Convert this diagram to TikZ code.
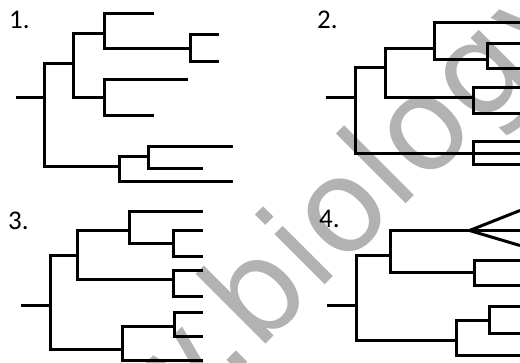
\documentclass[tikz,border=0pt]{standalone}
\usepackage{fontspec}
\setmainfont{Carlito}
\newfontfamily\wmfont{DejaVu Sans}
\begin{document}
\begin{tikzpicture}[x=1pt,y=-1pt,
  br/.style={line width=3pt,black},
  lab/.style={font=\fontsize{27}{27}\selectfont,inner sep=0pt,anchor=base west},
  wm/.style={font=\wmfont\fontsize{130}{130}\selectfont,text=black!30,inner sep=0pt,rotate=45}]
\useasboundingbox (0,0) rectangle (520,362);
% watermark
\coordinate (wb) at (257.6,352.4);
\node[wm,anchor=base west] (wm1) at (wb) {biology};
\node[wm,anchor=base east] (wm2) at (wb) {www.};
% labels
\node[lab] (l1) at (9,28) {1.};
\node[lab] (l2) at (317,28) {2.};
\node[lab] (l3) at (8,229) {3.};
\node[lab] (l4) at (319,227) {4.};
% ---------- tree 1
\coordinate (t1r) at (15.5,97.5);
\coordinate (t1n) at (44.5,97.5);
\coordinate (t1a) at (73.5,63.5);
\coordinate (t1b) at (119.5,166.5);
\coordinate (t1c) at (104.5,33.5);
\coordinate (t1d) at (104.5,97.5);
\coordinate (t1e) at (190.5,48.5);
\coordinate (t1f) at (148.5,156.5);
\coordinate (t1l1) at (154,13.5);
\coordinate (t1l2) at (219,34.5);
\coordinate (t1l3) at (219,61.5);
\coordinate (t1l4) at (188,79.5);
\coordinate (t1l5) at (154,115.5);
\coordinate (t1l6) at (233,146.5);
\coordinate (t1l7) at (203,168.5);
\coordinate (t1l8) at (233,181.5);
\draw[br] (t1r) -- (t1n);
\foreach \p/\c in {t1n/t1a,t1n/t1b,t1a/t1c,t1a/t1d,t1c/t1l1,t1c/t1e,t1e/t1l2,t1e/t1l3,t1d/t1l4,t1d/t1l5,t1b/t1f,t1b/t1l8,t1f/t1l6,t1f/t1l7}
  \draw[br] (\p) |- (\c);
% ---------- tree 2
\coordinate (t2r) at (325.5,97.5);
\coordinate (t2n) at (355.5,97.5);
\coordinate (t2a) at (385.5,67.5);
\coordinate (t2b) at (473.5,153.5);
\coordinate (t2c) at (434.5,48.5);
\coordinate (t2d) at (473.5,97.5);
\coordinate (t2e) at (487.5,59.5);
\coordinate (t2l1) at (520,22.5);
\coordinate (t2l2) at (520,43.5);
\coordinate (t2l3) at (520,68.5);
\coordinate (t2l4) at (520,87.5);
\coordinate (t2l5) at (520,113.5);
\coordinate (t2l6) at (520,141.5);
\coordinate (t2l7) at (520,153.5);
\coordinate (t2l8) at (520,164.5);
\draw[br] (t2r) -- (t2n);
\foreach \p/\c in {t2n/t2a,t2n/t2b,t2a/t2c,t2a/t2d,t2c/t2l1,t2c/t2e,t2e/t2l2,t2e/t2l3,t2d/t2l4,t2d/t2l5,t2b/t2l6,t2b/t2l7,t2b/t2l8}
  \draw[br] (\p) |- (\c);
% ---------- tree 3
\coordinate (t3r) at (20.5,305.5);
\coordinate (t3n) at (50.5,305.5);
\coordinate (t3a) at (77.5,255.5);
\coordinate (t3b) at (122.5,349.5);
\coordinate (t3c) at (129.5,230.5);
\coordinate (t3d) at (173.5,279.5);
\coordinate (t3e) at (173.5,243.5);
\coordinate (t3f) at (174.5,326.5);
\coordinate (t3l1) at (203,211.5);
\coordinate (t3l2) at (203,230.5);
\coordinate (t3l3) at (203,256.5);
\coordinate (t3l4) at (203,270.5);
\coordinate (t3l5) at (203,296.5);
\coordinate (t3l6) at (203,312.5);
\coordinate (t3l7) at (203,336.5);
\coordinate (t3l8) at (203,360.5);
\draw[br] (t3r) -- (t3n);
\foreach \p/\c in {t3n/t3a,t3n/t3b,t3a/t3c,t3a/t3d,t3c/t3l1,t3c/t3e,t3e/t3l2,t3e/t3l3,t3d/t3l4,t3d/t3l5,t3b/t3f,t3b/t3l8,t3f/t3l6,t3f/t3l7}
  \draw[br] (\p) |- (\c);
% ---------- tree 4
\coordinate (t4r) at (326.5,305.5);
\coordinate (t4n) at (356.5,305.5);
\coordinate (t4a) at (390.5,255.5);
\coordinate (t4b) at (456.5,340.5);
\coordinate (t4c) at (469.5,230.5);
\coordinate (t4d) at (474.5,272.5);
\coordinate (t4f) at (489.5,320.5);
\coordinate (t4l1) at (520,210.5);
\coordinate (t4l2) at (520,230.5);
\coordinate (t4l3) at (520,245.5);
\coordinate (t4l4) at (520,260.5);
\coordinate (t4l5) at (520,285.5);
\coordinate (t4l6) at (520,306.5);
\coordinate (t4l7) at (520,333.5);
\coordinate (t4l8) at (520,355.5);
\draw[br] (t4r) -- (t4n);
\foreach \p/\c in {t4n/t4a,t4n/t4b,t4a/t4c,t4a/t4d,t4d/t4l4,t4d/t4l5,t4b/t4f,t4b/t4l8,t4f/t4l6,t4f/t4l7}
  \draw[br] (\p) |- (\c);
\foreach \c in {t4l1,t4l2,t4l3}
  \draw[br] (t4c) -- (\c);
\end{tikzpicture}
\end{document}
